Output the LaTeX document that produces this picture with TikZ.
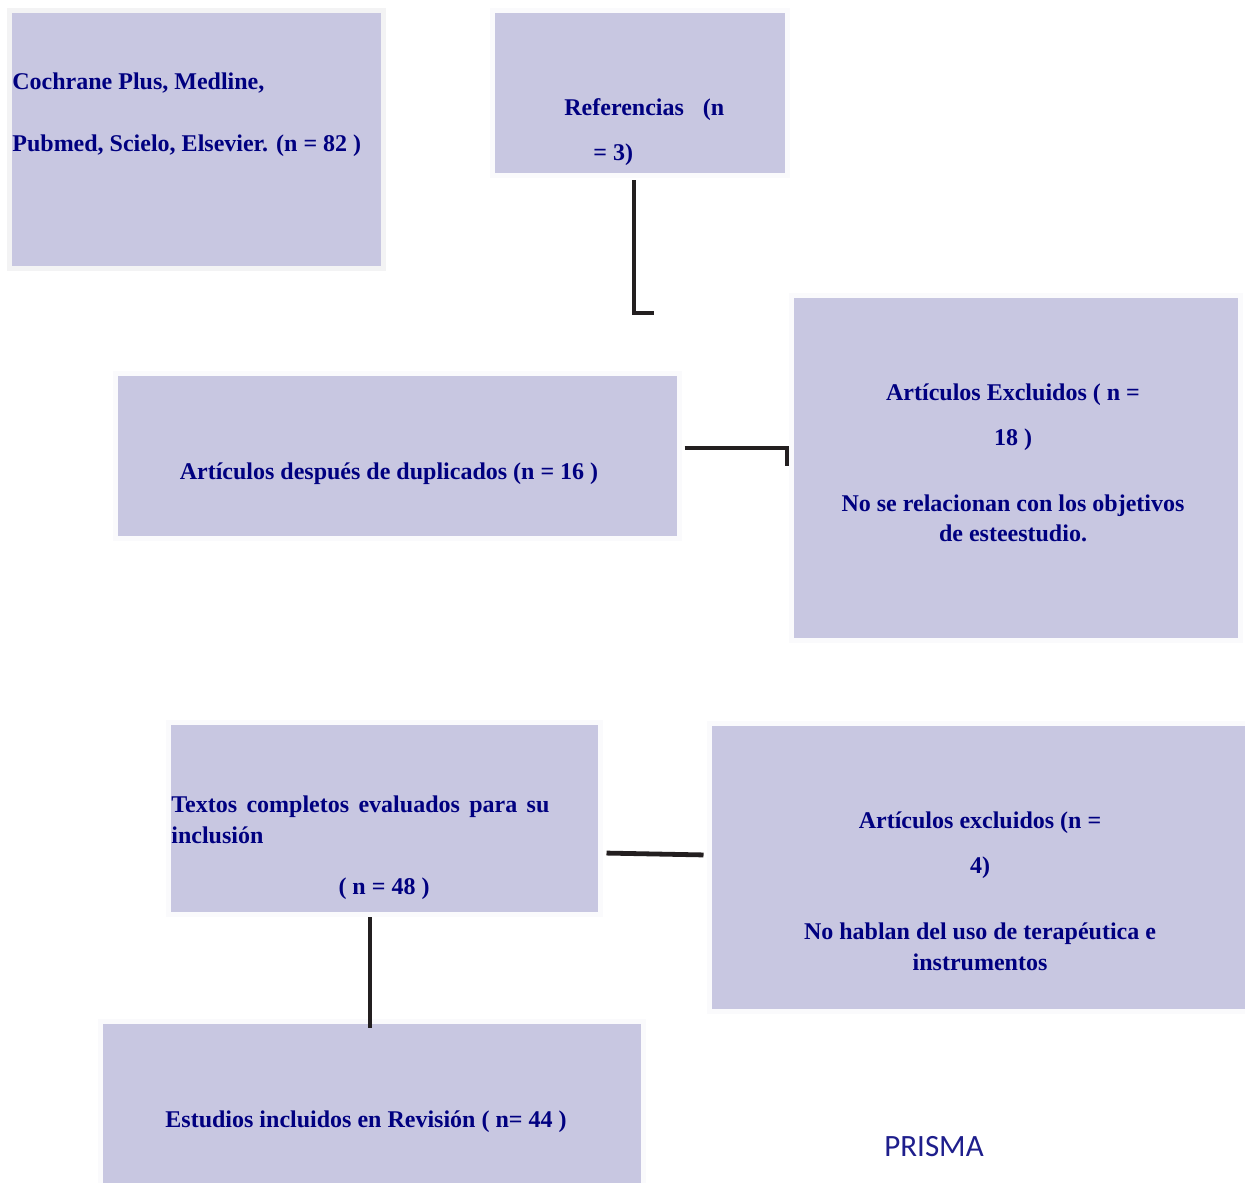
\documentclass[tikz,border=0pt]{standalone}
\usepackage{fontspec}
\setmainfont{Liberation Serif}
\newfontfamily\prismafont{Carlito}
\definecolor{boxlavender}{RGB}{200,199,225}
\definecolor{boxrim}{RGB}{243,243,244}
\definecolor{boxrimlight}{RGB}{250,250,252}
\definecolor{textnavy}{RGB}{0,0,128}
\definecolor{prismablue}{RGB}{30,30,140}
\definecolor{linkblack}{RGB}{35,31,32}
\tikzset{
  flowbox/.style={draw=boxrimlight, line width=2.5pt, fill=boxlavender, inner sep=0pt},
  boxtext/.style={inner sep=0pt, text=textnavy, font=\bfseries\fontsize{12pt}{15pt}\selectfont},
  link/.style={draw=linkblack, line width=2.4pt}
}
\begin{document}
\begin{tikzpicture}[x=0.5pt,y=-0.5pt]
    \useasboundingbox (0,0) rectangle (1245,1182);
    % boxes
    \node[flowbox, draw=boxrim, minimum width=187pt, minimum height=129pt] (src) at (196.5,139.5) {};
    \node[flowbox, minimum width=147.5pt, minimum height=82.5pt] (ref) at (640,93) {};
    \node[flowbox, minimum width=282pt, minimum height=82.5pt] (dup) at (397.5,456) {};
    \node[flowbox, minimum width=224.5pt, minimum height=172.5pt] (exc1) at (1016,468) {};
    \node[flowbox, minimum width=216pt, minimum height=96pt] (full) at (384.5,818.5) {};
    \node[flowbox, minimum width=269pt, minimum height=144pt] (exc2) at (978.5,867.5) {};
    \node[flowbox, minimum width=271.5pt, minimum height=83pt] (incl) at (372,1104.5) {};

    % texts
    \node[boxtext, anchor=base west] (srcA) at (12,90) {Cochrane Plus, Medline,};
    \node[boxtext, anchor=base west] (srcB) at (12,152) {Pubmed, Scielo, Elsevier. (n = 82 )};
    \node[boxtext, anchor=base west] (refA) at (564,116) {Referencias\hspace{9.5pt}(n};
    \node[boxtext, anchor=base west] (refB) at (593,161) {= 3)};
    \node[boxtext, anchor=base] (dupA) at (389,479) {Artículos después de duplicados (n = 16 )};
    \node[boxtext, anchor=base] (excA) at (1013,400) {Artículos Excluidos ( n =};
    \node[boxtext, anchor=base] (excB) at (1013,445) {18 )};
    \node[boxtext, anchor=base] (excC) at (1013,511) {No se relacionan con los objetivos};
    \node[boxtext, anchor=base] (excD) at (1013,541) {de esteestudio.};
    \node[boxtext, anchor=base west] (fullA) at (171,812) {\hbox to 189pt{Textos\hfill completos\hfill evaluados\hfill para\hfill su}};
    \node[boxtext, anchor=base west] (fullB) at (171,843) {inclusión};
    \node[boxtext, anchor=base] (fullC) at (384,894) {( n = 48 )};
    \node[boxtext, anchor=base] (exdA) at (980,828) {Artículos excluidos (n =};
    \node[boxtext, anchor=base] (exdB) at (980,873) {4)};
    \node[boxtext, anchor=base] (exdC) at (980,939) {No hablan del uso de terapéutica e};
    \node[boxtext, anchor=base] (exdD) at (980,970) {instrumentos};
    \node[boxtext, anchor=base] (inclA) at (366,1127) {Estudios incluidos en Revisión ( n= 44 )};
    \node[inner sep=0pt, anchor=base, text=prismablue, font=\prismafont\fontsize{15.5pt}{18pt}\selectfont] (prisma) at (934,1156) {PRISMA};

    % connectors
    \coordinate (refend) at (654,313);
    \coordinate (dupend) at (787,466);
    \draw[link, shorten <=1.25pt] ([xshift=-3pt]ref.south) |- (refend);
    \draw[link, shorten <=1.25pt] ([yshift=4pt]dup.east) -| (dupend);
    \draw[link, shorten <=1.75pt, shorten >=1.75pt] ([yshift=-17.25pt]full.east) -- ([yshift=6.25pt]exc2.west);
    \draw[link] ([xshift=-7.25pt]full.south) -- ([xshift=-1pt,yshift=-4.25pt]incl.north);
\end{tikzpicture}
\end{document}
